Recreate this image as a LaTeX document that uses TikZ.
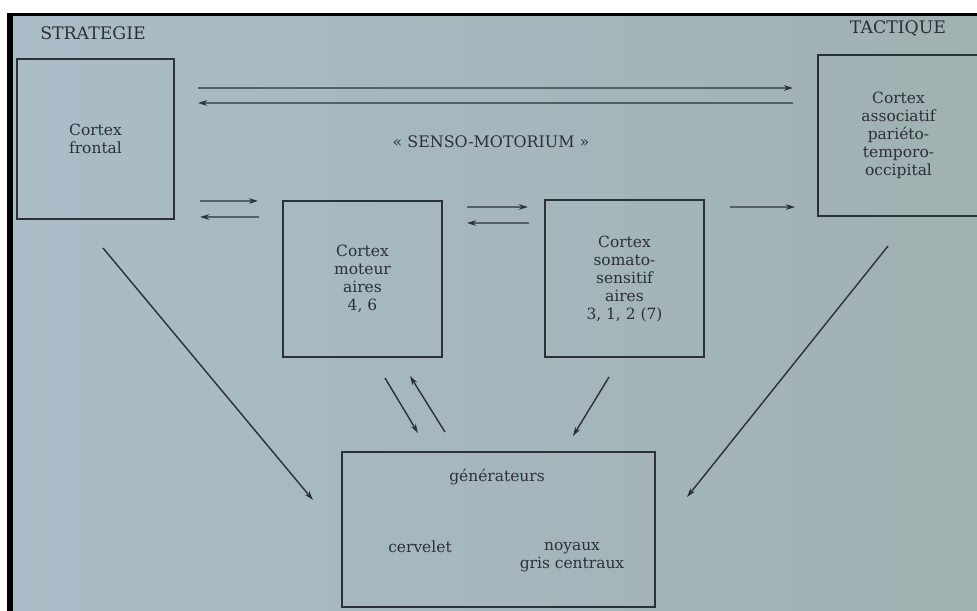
\documentclass[tikz,border=0pt]{standalone}
\usepackage{fontspec}
\setmainfont{DejaVu Serif}
\usetikzlibrary{arrows.meta,calc}
\definecolor{ink}{RGB}{44,48,56}
\definecolor{paperleft}{RGB}{170,189,200}
\definecolor{paperright}{RGB}{160,177,177}
\tikzset{
  box/.style={draw=ink, line width=1.3pt, text=ink, align=center, inner sep=0pt, outer sep=0pt,
    font=\fontsize{11}{12.8}\selectfont},
  lbl/.style={text=ink, align=center, font=\fontsize{11}{12.8}\selectfont},
  head/.style={text=ink, font=\fontsize{12.3}{14}\selectfont},
  arr/.style={draw=ink, line width=1pt, -{Stealth[length=6.5pt,width=4pt]}},
}
\begin{document}
\begin{tikzpicture}[x=0.025cm, y=-0.025cm]
  \useasboundingbox (0,0) rectangle (977,610);
  % paper and the edge of the photo
  \fill[white] (0,0) rectangle (977,610);
  \fill[black] (7,13) rectangle (995,625);
  \shade[left color=paperleft, right color=paperright] (13,17) rectangle (995,625);

  \node[head] (strategie) at (93,33) {STRATEGIE};
  \node[head] (tactique) at (898,28) {TACTIQUE};
  \node[lbl, font=\fontsize{11.3}{13}\selectfont] (senso) at (491,142) {« SENSO-MOTORIUM »};

  % boxes
  \node[box, minimum width=3.925cm, minimum height=4cm] (frontal) at (95.5,139) {Cortex\\frontal};
  \node[box, minimum width=4.025cm, minimum height=4.025cm] (assoc) at (898.5,135.5)
    {Cortex\\associatif\\pariéto-\\temporo-\\occipital};
  \node[box, minimum width=3.975cm, minimum height=3.9cm] (moteur) at (362.5,279)
    {Cortex\\moteur\\aires\\4, 6};
  \node[box, minimum width=3.975cm, minimum height=3.925cm] (somato) at (624.5,278.5)
    {Cortex\\somato-\\sensitif\\aires\\3, 1, 2 (7)};
  \node[box, minimum width=7.825cm, minimum height=3.875cm] (gen) at (498.5,529.5) {};
  \node[lbl] (generateurs) at (497,477) {générateurs};
  \node[lbl] (cervelet) at (420,547) {cervelet};
  \node[lbl] (noyaux) at (572,557) {noyaux\\gris centraux};

  % arrows
  \draw[arr] ($(frontal.north east)+(24,29)$) -- ($(assoc.north west)+(-25,33)$);
  \draw[arr] ($(assoc.north west)+(-25,48)$) -- ($(frontal.north east)+(24,44)$);
  \draw[arr] ($(frontal.south east)+(26,-18)$) -- ($(moteur.north west)+(-25,0)$);
  \draw[arr] ($(moteur.north west)+(-24,16)$) -- ($(frontal.south east)+(26,-2)$);
  \draw[arr] ($(moteur.north east)+(25,6)$) -- ($(somato.north west)+(-17,7)$);
  \draw[arr] ($(somato.north west)+(-16,23)$) -- ($(moteur.north east)+(25,22)$);
  \draw[arr] ($(somato.north east)+(26,7)$) -- ($(assoc.south west)+(-23,-9)$);
  \draw[arr] ($(frontal.south)+(7.5,29)$) -- ($(gen.north west)+(-29,48)$);
  \draw[arr] ($(assoc.south)+(-10.5,30)$) -- ($(gen.north east)+(32,45)$);
  \draw[arr] ($(moteur.south)+(22.5,21)$) -- ($(gen.north west)+(76,-19)$);
  \draw[arr] ($(gen.north west)+(103,-20)$) -- ($(moteur.south)+(47.5,19)$);
  \draw[arr] ($(somato.south)+(-15.5,20)$) -- ($(gen.north)+(74.5,-16)$);
\end{tikzpicture}
\end{document}
